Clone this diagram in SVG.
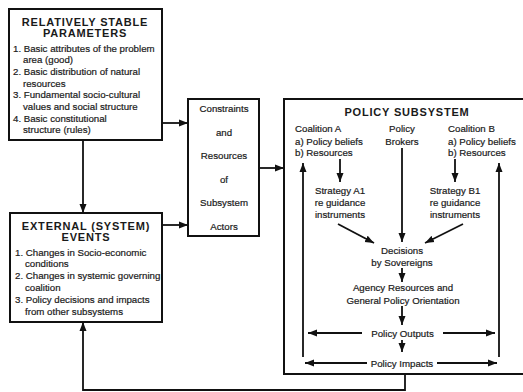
<svg xmlns="http://www.w3.org/2000/svg" width="523" height="392" viewBox="0 0 523 392">
<defs>
<marker id="ah" markerWidth="10" markerHeight="8" refX="9" refY="4" orient="auto" markerUnits="userSpaceOnUse">
<path d="M0,0.5 L9,4 L0,7.5 Z" fill="#111"/>
</marker>
<style>
.box{fill:#fff;stroke:#111;stroke-width:2}
.ln{fill:none;stroke:#111;stroke-width:1.8}
.ar{fill:none;stroke:#111;stroke-width:1.8;marker-end:url(#ah)}
.t{font-family:"Liberation Sans",Arial,sans-serif;font-size:9.7px;fill:#1a1a1a;stroke:#1a1a1a;stroke-width:0.2}
.c{text-anchor:middle}
.h{font-family:"Liberation Sans",Arial,sans-serif;font-size:11px;font-weight:bold;letter-spacing:0.8px;fill:#1a1a1a;text-anchor:middle}
</style>
</defs>
<rect width="523" height="392" fill="#fff"/>

<g id="stable-parameters">
<rect class="box" x="9" y="9" width="153" height="131"/>
<text class="h" x="85" y="26">RELATIVELY STABLE</text>
<text class="h" x="85" y="37">PARAMETERS</text>
<text class="t" x="13" y="51.5">1. Basic attributes of the problem</text>
<text class="t" x="23" y="63.2">area (good)</text>
<text class="t" x="13" y="74.9">2. Basic distribution of natural</text>
<text class="t" x="23" y="86.6">resources</text>
<text class="t" x="13" y="98.3">3. Fundamental socio-cultural</text>
<text class="t" x="23" y="110">values and social structure</text>
<text class="t" x="13" y="121.7">4. Basic constitutional</text>
<text class="t" x="23" y="133.4">structure (rules)</text>
</g>

<g id="external-events">
<rect class="box" x="10" y="213" width="152" height="109"/>
<text class="h" x="86" y="230">EXTERNAL (SYSTEM)</text>
<text class="h" x="86" y="241">EVENTS</text>
<text class="t" x="15" y="255.5">1. Changes in Socio-economic</text>
<text class="t" x="25" y="267">conditions</text>
<text class="t" x="15" y="279">2. Changes in systemic governing</text>
<text class="t" x="25" y="290.5">coalition</text>
<text class="t" x="15" y="303">3. Policy decisions and impacts</text>
<text class="t" x="25" y="315">from other subsystems</text>
</g>

<g id="constraints">
<rect class="box" x="188" y="99" width="71" height="137"/>
<text class="t c" x="224" y="111.5">Constraints</text>
<text class="t c" x="224" y="135.5">and</text>
<text class="t c" x="224" y="158.5">Resources</text>
<text class="t c" x="224" y="182.5">of</text>
<text class="t c" x="224" y="205.5">Subsystem</text>
<text class="t c" x="224" y="229.5">Actors</text>
</g>

<g id="policy-subsystem">
<path class="box" d="M526,99 H284 V374 H526"/>
<text class="h" x="407" y="116">POLICY SUBSYSTEM</text>
</g>

<g id="coalition-a">
<text class="t" x="295" y="132">Coalition A</text>
<text class="t" x="295" y="144.5">a) Policy beliefs</text>
<text class="t" x="295" y="155.5">b) Resources</text>
</g>
<g id="policy-brokers">
<text class="t c" x="402" y="132">Policy</text>
<text class="t c" x="402" y="144.5">Brokers</text>
</g>
<g id="coalition-b">
<text class="t" x="448" y="132">Coalition B</text>
<text class="t" x="448" y="144.5">a) Policy beliefs</text>
<text class="t" x="448" y="155.5">b) Resources</text>
</g>
<g id="strategy-a1">
<text class="t c" x="340" y="193.5">Strategy A1</text>
<text class="t c" x="340" y="206">re guidance</text>
<text class="t c" x="340" y="218">instruments</text>
</g>
<g id="strategy-b1">
<text class="t c" x="455" y="193.5">Strategy B1</text>
<text class="t c" x="455" y="206">re guidance</text>
<text class="t c" x="455" y="218">instruments</text>
</g>
<g id="decisions">
<text class="t c" x="402" y="253.5">Decisions</text>
<text class="t c" x="402" y="266">by Sovereigns</text>
</g>
<g id="agency">
<text class="t c" x="403" y="291">Agency Resources and</text>
<text class="t c" x="403" y="303.5">General Policy Orientation</text>
</g>
<g id="policy-outputs">
<text class="t c" x="402.5" y="337">Policy Outputs</text>
</g>
<g id="policy-impacts">
<text class="t c" x="402" y="367">Policy Impacts</text>
</g>

<g id="connectors">
<path class="ar" d="M162,123 H188"/>
<path class="ar" d="M162,225 H188"/>
<path class="ar" d="M83,140 V213"/>
<path class="ar" d="M259,168 H284"/>
<path class="ar" d="M405,374 V390 H83 V322"/>
<path class="ar" d="M340,159 V182"/>
<path class="ar" d="M455,159 V182"/>
<path class="ar" d="M303,357 V163"/>
<path class="ar" d="M499,357 V163"/>
<path class="ar" d="M402,148 V242"/>
<path class="ar" d="M338,224 L374,243"/>
<path class="ar" d="M463,224 L425,243"/>
<path class="ar" d="M402,268 V282"/>
<path class="ar" d="M402,306 V325"/>
<path class="ar" d="M402,340 V352"/>
<path class="ar" d="M362,333 H308"/>
<path class="ar" d="M443,333 H495"/>
<path class="ar" d="M367,363 H305"/>
<path class="ar" d="M437,363 H497"/>
</g>
</svg>
